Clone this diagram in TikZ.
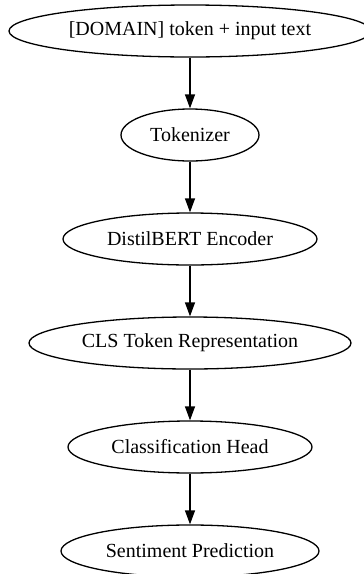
\documentclass[tikz,border=0pt]{standalone}
\usepackage{fontspec}
\setmainfont{Liberation Serif}
\usetikzlibrary{shapes.geometric,arrows.meta}
\tikzset{
  stage/.style={draw,ellipse,line width=1.3pt,inner sep=0pt,minimum height=52pt,
    font=\fontsize{20}{22}\selectfont},
  flow/.style={line width=1.3pt,-{Triangle[length=14pt,width=10pt]}}
}
\begin{document}
\begin{tikzpicture}[x=1pt,y=-1pt]
  \useasboundingbox (0,0) rectangle (364,574);

  %% stages
  \node[stage,minimum width=362pt] (input) at (190,31) {[DOMAIN] token + input text};
  \node[stage,minimum width=138pt] (tok) at (190,135) {Tokenizer};
  \node[stage,minimum width=254pt] (enc) at (190,239) {DistilBERT Encoder};
  \node[stage,minimum width=322pt] (cls) at (190,343) {CLS Token Representation};
  \node[stage,minimum width=244pt] (head) at (190,447) {Classification Head};
  \node[stage,minimum width=258pt] (pred) at (190,551) {Sentiment Prediction};

  %% arrows
  \draw[flow] (input) -- (tok);
  \draw[flow] (tok) -- (enc);
  \draw[flow] (enc) -- (cls);
  \draw[flow] (cls) -- (head);
  \draw[flow] (head) -- (pred);
\end{tikzpicture}
\end{document}
